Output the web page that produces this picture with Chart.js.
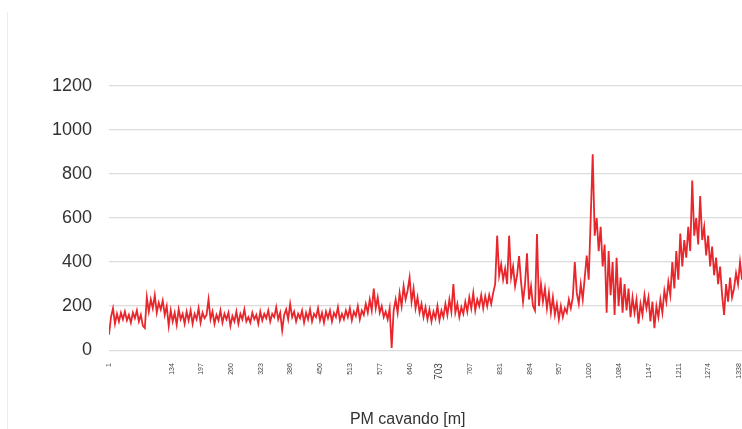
<!DOCTYPE html>
<html>
<head>
<meta charset="utf-8">
<script src="https://cdn.jsdelivr.net/npm/chart.js@4"></script>
<style>
    body { margin: 0; background: #fff; }
    #wrap { position: relative; width: 742px; height: 429px; }
    #borda { position: absolute; left: 7px; top: 12px; width: 1px; height: 417px; background: #ececec; }
</style>
</head>
<body>
<div id="wrap">
    <div id="borda"></div>
    <canvas id="graficoPM" width="742" height="429"></canvas>
</div>
<script>
// Rótulos mostrados no eixo X (PM cavando)
const pmTicks = [1, 134, 197, 260, 323, 386, 450, 513, 577, 640, 703, 767, 831, 894, 957, 1020, 1084, 1147, 1211, 1274, 1338];
const yTicks = [0, 200, 400, 600, 800, 1000, 1200];
const pmInicio = 1;
const pmFim = 1345;

// Valores (um a cada ~4,2 m de PM)
const valores = [
    70, 150, 190, 120, 165, 130, 170, 140, 175, 135,
    160, 125, 170, 145, 180, 130, 160, 110, 100, 240,
    175, 230, 190, 250, 170, 215, 185, 225, 160, 200,
    110, 180, 130, 170, 115, 185, 140, 165, 120, 175,
    135, 180, 120, 165, 140, 190, 125, 170, 145, 160,
    230, 140, 175, 120, 160, 135, 180, 125, 165, 140,
    170, 110, 155, 130, 175, 120, 165, 140, 185, 130,
    150, 125, 170, 140, 160, 120, 175, 135, 165, 145,
    180, 130, 165, 150, 195, 140, 170, 90, 160, 185,
    140, 210, 150, 175, 130, 165, 145, 180, 125, 170,
    140, 185, 130, 165, 150, 190, 135, 170, 125, 175,
    145, 180, 130, 170, 150, 195, 135, 165, 140, 180,
    150, 190, 135, 175, 155, 200, 140, 180, 160, 210,
    170, 230, 180, 280, 190, 240, 170, 200, 150, 175,
    140, 190, 10, 180, 230, 170, 260, 200, 290, 230,
    270, 330, 220, 280, 190, 240, 170, 210, 150, 195,
    140, 185, 130, 175, 145, 200, 135, 180, 150, 210,
    160, 230, 175, 300, 170, 210, 150, 195, 165, 220,
    175, 240, 190, 260, 180, 230, 200, 250, 190, 245,
    200, 250, 210, 260, 300, 520, 340, 390, 320, 370,
    300, 520, 330, 380, 290, 340, 427, 310, 220, 300,
    440, 230, 290, 200, 180, 527, 200, 300, 220, 280,
    190, 260, 170, 240, 160, 210, 140, 200, 150, 190,
    170, 230, 190, 240, 400, 260, 210, 300, 230, 330,
    430, 320, 600, 890, 520, 600, 450, 560, 380, 480,
    170, 450, 250, 400, 160, 420, 200, 330, 170, 300,
    180, 280, 150, 240, 170, 230, 120, 210, 160, 250,
    190, 240, 130, 220, 100, 200, 150, 230, 170, 270,
    220, 310, 250, 400, 280, 450, 320, 530, 380, 500,
    420, 560, 450, 770, 520, 600, 480, 700, 500, 560,
    430, 520, 380, 470, 340, 420, 300, 380, 250, 160,
    300, 220, 330, 240, 280, 350, 300, 400, 320
];

const passoPM = (pmFim - pmInicio) / (valores.length - 1);

const ctx = document.getElementById('graficoPM').getContext('2d');

new Chart(ctx, {
    type: 'line',
    data: {
        datasets: [{
            label: 'PM',
            data: valores.map((v, i) => ({ x: pmInicio + i * passoPM, y: v })),
            borderColor: '#e8262b',
            borderWidth: 1.8,
            pointRadius: 0,
            tension: 0,
            fill: false
        }]
    },
    options: {
        responsive: false,
        animation: false,
        layout: { padding: { top: 86, left: 0, right: 0, bottom: 0 } },
        plugins: {
            legend: { display: false },
            tooltip: { enabled: false }
        },
        scales: {
            x: {
                type: 'linear',
                min: pmInicio,
                max: pmFim,
                afterBuildTicks: scale => {
                    scale.ticks = pmTicks.map(v => ({ value: v }));
                },
                // o gráfico original é cortado na borda direita
                afterFit: scale => { scale.paddingLeft = 0; scale.paddingRight = 0; },
                grid: { display: false, drawTicks: false },
                border: { display: false },
                ticks: {
                    autoSkip: false,
                    minRotation: 90,
                    maxRotation: 90,
                    padding: 13,
                    color: '#444',
                    font: c => ({ family: 'Liberation Sans', size: (c.tick && c.tick.value === 703) ? 10 : 7 }),
                    callback: v => String(v)
                },
                title: {
                    display: true,
                    // espaços no fim deslocam o título um pouco à esquerda, como no original
                    text: 'PM cavando [m]        ',
                    color: '#333',
                    font: { family: 'Liberation Sans', size: 16 },
                    padding: { top: 17, bottom: 0 }
                }
            },
            y: {
                min: 0,
                max: 1200,
                afterBuildTicks: scale => {
                    scale.ticks = yTicks.map(v => ({ value: v }));
                },
                afterFit: scale => { scale.width = 109; },
                grid: { color: '#dcdcdc', lineWidth: 1.2, drawTicks: false },
                border: { display: false },
                ticks: {
                    padding: 17,
                    color: '#333',
                    font: { family: 'Liberation Sans', size: 18 },
                    callback: v => String(v)
                }
            }
        }
    }
});
</script>
</body>
</html>
